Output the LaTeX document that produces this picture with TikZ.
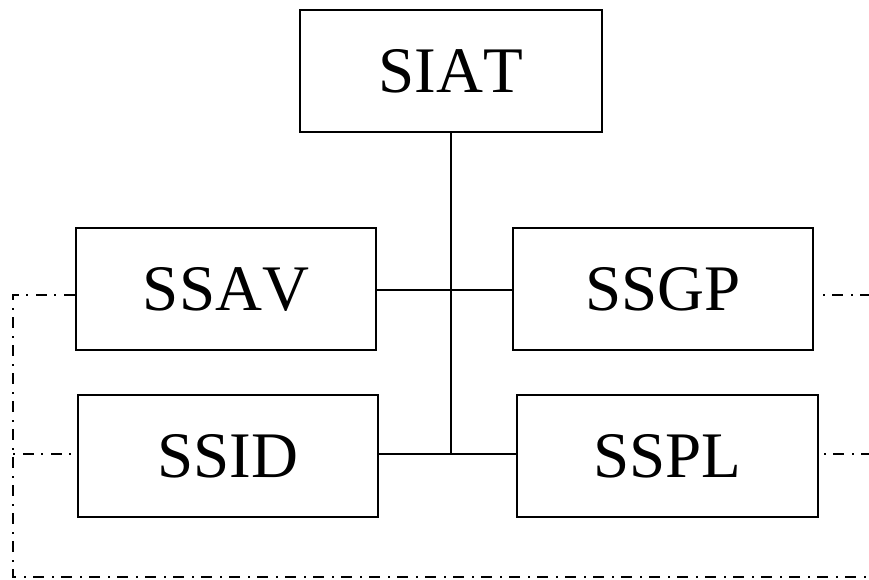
\documentclass[tikz,border=0pt]{standalone}
\usepackage{fontspec}
\setmainfont[Kerning=Off]{Liberation Serif}
\begin{document}
\begin{tikzpicture}[x=1pt,y=-1pt,
  box/.style={draw,line width=2.6pt,inner sep=0pt,font=\fontsize{65}{70}\selectfont},
  link/.style={line width=2.4pt},
  ddot/.style={line width=2pt,dash pattern=on 11pt off 8pt on 2pt off 7pt},
  ddotb/.style={ddot,dash phase=19pt}]
\useasboundingbox (0,0) rectangle (869,579);
\node[box,minimum width=302pt,minimum height=122pt] (siat) at (451,71) {SIAT};
\node[box,minimum width=300pt,minimum height=122pt] (ssav) at (226,289) {SSAV};
\node[box,minimum width=300pt,minimum height=122pt] (ssgp) at (663,289) {SSGP};
\node[box,minimum width=300pt,minimum height=122pt] (ssid) at (228,456) {SSID};
\node[box,minimum width=301pt,minimum height=122pt] (sspl) at (667.5,456) {SSPL};
\coordinate (j) at (451,454);
\draw[link] (siat.south) -- (j);
\draw[link] (ssav.east |- 0,290) -- (ssgp.west |- 0,290);
\draw[link] (ssid.east |- 0,454) -- (sspl.west |- 0,454);
\coordinate (c1) at (13,295);
\coordinate (c2) at (13,577);
\coordinate (c3) at (869,577);
\coordinate (c4) at (9,454);
\coordinate (r1) at (869,295);
\coordinate (r2) at (869,454);
\draw[ddot] (ssav.west |- c1) -- (c1) -- (c2) -- (c3);
\draw[ddotb] (ssid.west |- c4) ++(-6,0) -- (c4);
\draw[ddotb] (ssgp.east |- r1) ++(9,0) -- (r1);
\draw[ddotb] (sspl.east |- r2) ++(5,0) -- (r2);
\end{tikzpicture}
\end{document}
